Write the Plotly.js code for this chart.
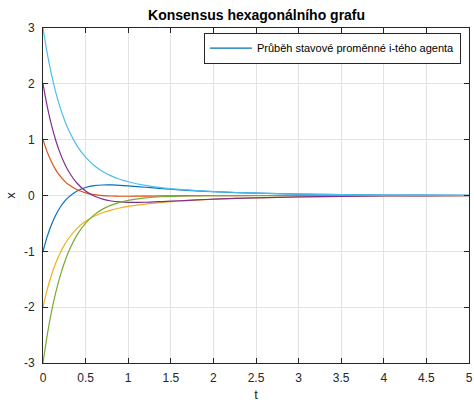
<!DOCTYPE html>
<html><head><meta charset="utf-8">
<script src="https://cdn.plot.ly/plotly-3.0.1.min.js"></script>
<style>html,body{margin:0;padding:0;background:#fff;}</style>
</head><body>
<div id="chart" style="width:474px;height:402px;"></div>
<script>
// time samples
const t = [0,0.05,0.1,0.15,0.2,0.25,0.3,0.4,0.5,0.6,0.7,0.8,0.9,1.0,1.2,1.4,1.6,1.8,2.0,2.5,3.0,3.5,4.0,4.5,5.0];
// agent states
const agent1 = [-1,-0.732,-0.518,-0.348,-0.215,-0.110,-0.029,0.082,0.144,0.176,0.188,0.189,0.182,0.172,0.148,0.123,0.102,0.084,0.068,0.041,0.025,0.015,0.009,0.0056,0.0034];
const agent2 = [1,0.777,0.600,0.460,0.350,0.263,0.196,0.103,0.048,0.016,-0.001,-0.009,-0.013,-0.013,-0.011,-0.008,-0.005,-0.003,-0.002,0,0,0,0,0,0];
const agent3 = [-2,-1.683,-1.423,-1.209,-1.034,-0.889,-0.770,-0.588,-0.462,-0.373,-0.309,-0.261,-0.224,-0.196,-0.153,-0.123,-0.100,-0.082,-0.067,-0.041,-0.025,-0.015,-0.009,-0.0056,-0.0034];
const agent4 = [2,1.592,1.259,0.986,0.764,0.583,0.435,0.219,0.079,-0.010,-0.065,-0.098,-0.115,-0.123,-0.121,-0.108,-0.094,-0.079,-0.066,-0.041,-0.025,-0.015,-0.009,-0.0056,-0.0034];
const agent5 = [-3,-2.498,-2.081,-1.735,-1.448,-1.208,-1.009,-0.705,-0.494,-0.347,-0.244,-0.172,-0.122,-0.086,-0.044,-0.022,-0.012,-0.006,-0.003,-0.001,0,0,0,0,0];
const agent6 = [3,2.544,2.163,1.847,1.583,1.361,1.176,0.890,0.686,0.538,0.431,0.352,0.292,0.246,0.181,0.138,0.108,0.087,0.070,0.041,0.025,0.015,0.009,0.0056,0.0034];
const series = [agent1, agent2, agent3, agent4, agent5, agent6];
const colors = ['#0072BD','#D95319','#EDB120','#7E2F8E','#77AC30','#4DBEEE'];
const legendName = 'Průběh stavové proměnné i-tého agenta';
const xTicks = [0,0.5,1,1.5,2,2.5,3,3.5,4,4.5,5];
const xTickText = ['0','0.5','1','1.5','2','2.5','3','3.5','4','4.5','5'];
const yTicks = [-3,-2,-1,0,1,2,3];
const yTickText = ['-3','-2','-1','0','1','2','3'];

const font = 'Liberation Sans, Arial, Helvetica, sans-serif';
const traces = series.map((y, i) => ({
  x: t, y: y, type: 'scatter', mode: 'lines',
  line: {color: colors[i], width: 1.2, shape: 'spline', smoothing: 0.7},
  name: legendName, showlegend: i === 0, hoverinfo: 'skip'
}));

const axisCommon = {
  showline: true, linecolor: '#262626', linewidth: 1, mirror: 'ticks',
  ticks: 'inside', ticklen: 5, tickcolor: '#262626', tickwidth: 1,
  showgrid: true, gridcolor: '#e3e3e3', gridwidth: 1, zeroline: false,
  tickfont: {family: font, size: 12, color: '#262626'}
};

const layout = {
  width: 474, height: 402,
  margin: {l: 43, r: 5, t: 28, b: 39},
  paper_bgcolor: '#fff', plot_bgcolor: '#fff',
  title: {text: '<b>Konsensus hexagonálního grafu</b>', font: {family: font, size: 14, color: '#000'},
          x: 0.5413, xanchor: 'center', y: 0.962, yanchor: 'middle'},
  xaxis: Object.assign({}, axisCommon, {
    range: [0, 5], tickvals: xTicks, ticktext: xTickText, ticklabelstandoff: 4,
    title: {text: 't', font: {family: font, size: 13, color: '#262626'}, standoff: 14}
  }),
  yaxis: Object.assign({}, axisCommon, {
    range: [-3, 3], tickvals: yTicks, ticktext: yTickText, ticklabelstandoff: 5,
    title: {text: 'x', font: {family: font, size: 13, color: '#262626'}, standoff: 5}
  }),
  legend: {x: 0.981, xanchor: 'right', y: 0.986, yanchor: 'top',
           bgcolor: '#fff', bordercolor: '#262626', borderwidth: 1,
           font: {family: font, size: 11, color: '#000'}, itemwidth: 42, tracegroupgap: 0},
  showlegend: true
};

Plotly.newPlot('chart', traces, layout, {displayModeBar: false, staticPlot: true});
</script>
</body></html>
